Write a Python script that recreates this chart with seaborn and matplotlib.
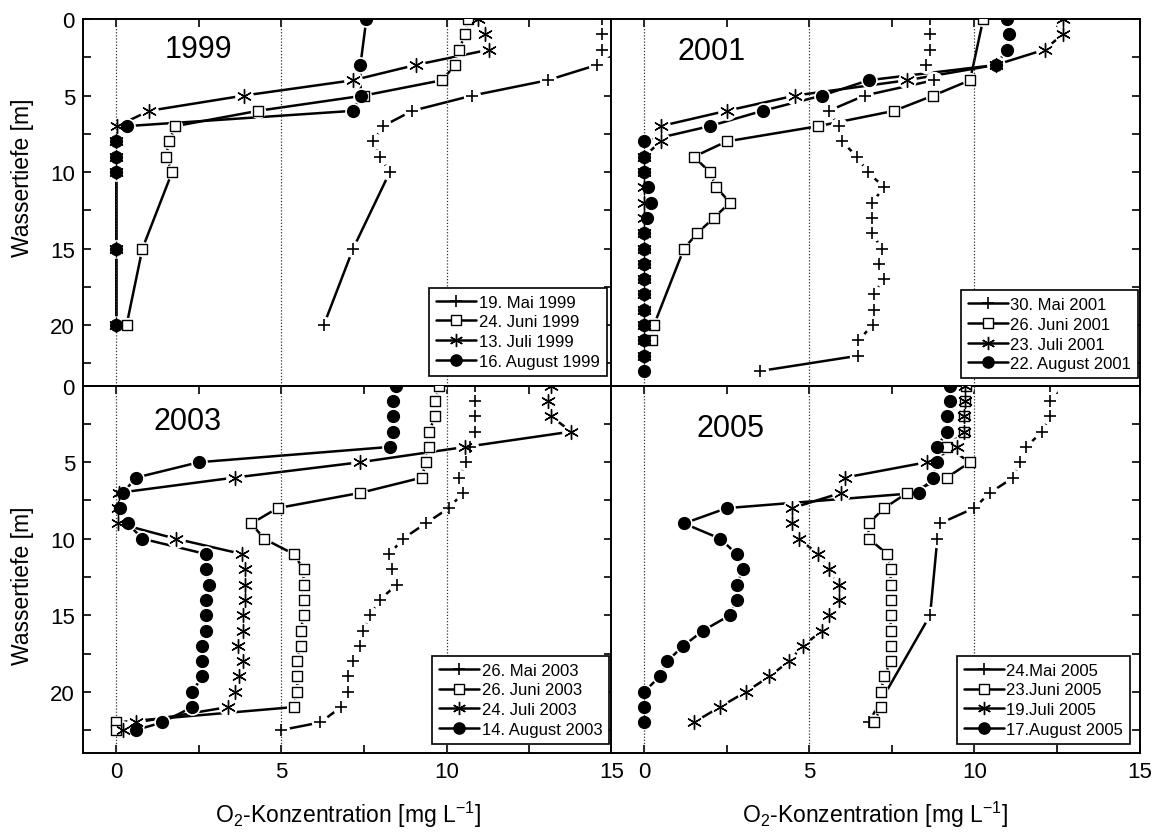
import matplotlib
matplotlib.use("Agg")
import matplotlib.pyplot as plt
from matplotlib.lines import Line2D
from matplotlib.ticker import MultipleLocator
import seaborn as sns

# ---------------------------------------------------------------- data
# depth [m] and dissolved oxygen [mg/L] for each sampling date

# 1999
depth_1999_mai = [0, 1, 2, 3, 4, 5, 6, 7, 8, 9, 10, 15, 20]
o2_1999_mai = [14.7, 14.7, 14.7, 14.55, 13.06, 10.78, 8.96, 8.07, 7.78, 7.98, 8.28, 7.17, 6.28]
depth_1999_juni = [0, 1, 2, 3, 4, 5, 6, 7, 8, 9, 10, 15, 20]
o2_1999_juni = [10.66, 10.57, 10.37, 10.26, 9.86, 7.50, 4.29, 1.79, 1.60, 1.50, 1.69, 0.79, 0.31]
depth_1999_juli = [0, 1, 2, 3, 4, 5, 6, 7, 8, 9, 10, 15, 20]
o2_1999_juli = [10.94, 11.17, 11.29, 9.07, 7.17, 3.87, 0.99, 0.03, 0.0, 0.0, 0.0, 0.0, 0.0]
depth_1999_aug = [0, 3, 5, 6, 7, 8, 9, 10, 15, 20]
o2_1999_aug = [7.57, 7.39, 7.40, 7.17, 0.31, 0.0, 0.0, 0.0, 0.0, 0.0]

# 2001
depth_2001_mai = list(range(0, 24))
o2_2001_mai = [8.67, 8.67, 8.67, 8.55, 8.77, 6.68, 5.59, 5.90, 5.99, 6.45, 6.77, 7.27,
               6.90, 6.90, 6.90, 7.20, 7.10, 7.25, 6.95, 6.95, 6.92, 6.49, 6.49, 3.52]
depth_2001_juni = [0, 4, 5, 6, 7, 8, 9, 10, 11, 12, 13, 14, 15, 20, 21]
o2_2001_juni = [10.27, 9.87, 8.76, 7.57, 5.28, 2.50, 1.51, 1.99, 2.19, 2.60, 2.11, 1.61,
                1.21, 0.30, 0.25]
depth_2001_juli = list(range(0, 23))
o2_2001_juli = [12.67, 12.67, 12.13, 10.65, 7.97, 4.58, 2.50, 0.50, 0.50, 0.0, 0.0, 0.0,
                0.0, 0.0, 0.0, 0.0, 0.0, 0.0, 0.0, 0.0, 0.0, 0.0, 0.0]
depth_2001_aug = list(range(0, 24))
o2_2001_aug = [10.98, 11.05, 10.98, 10.67, 6.80, 5.39, 3.59, 1.99, 0.0, 0.0, 0.0, 0.12,
               0.20, 0.10, 0.0, 0.0, 0.0, 0.0, 0.0, 0.0, 0.0, 0.0, 0.0, 0.0]

# 2003
depth_2003 = list(range(0, 23)) + [22.5]
o2_2003_mai = [10.87, 10.87, 10.87, 10.87, 10.70, 10.59, 10.37, 10.49, 10.07, 9.36, 8.68,
               8.27, 8.35, 8.49, 7.97, 7.69, 7.47, 7.39, 7.18, 7.00, 7.00, 6.80, 6.18, 5.00]
o2_2003_juni = [9.77, 9.66, 9.66, 9.46, 9.46, 9.36, 9.26, 7.39, 4.88, 4.09, 4.47, 5.37,
                5.67, 5.67, 5.67, 5.67, 5.58, 5.58, 5.48, 5.48, 5.48, 5.37, 0.0, 0.0]
o2_2003_juli = [13.16, 13.06, 13.16, 13.77, 10.57, 7.39, 3.59, 0.07, 0.05, 0.06, 1.80, 3.81,
                3.89, 3.89, 3.89, 3.84, 3.84, 3.67, 3.84, 3.71, 3.59, 3.38, 0.61, 0.19]
o2_2003_aug = [8.48, 8.37, 8.37, 8.37, 8.28, 2.50, 0.61, 0.19, 0.11, 0.34, 0.79, 2.71,
               2.71, 2.80, 2.71, 2.71, 2.71, 2.58, 2.58, 2.60, 2.30, 2.30, 1.39, 0.59]

# 2005
depth_2005_mai = [0, 1, 2, 3, 4, 5, 6, 7, 8, 9, 10, 15, 22]
o2_2005_mai = [12.28, 12.28, 12.28, 12.06, 11.56, 11.38, 11.18, 10.47, 9.99, 8.96, 8.88,
               8.66, 6.80]
depth_2005 = list(range(0, 23))
o2_2005_juni = [9.75, 9.72, 9.70, 9.70, 9.16, 9.87, 9.17, 7.97, 7.27, 6.80, 6.80, 7.37,
                7.47, 7.47, 7.47, 7.47, 7.47, 7.47, 7.47, 7.27, 7.17, 7.17, 6.97]
o2_2005_juli = [9.72, 9.72, 9.70, 9.70, 9.48, 8.56, 6.09, 5.97, 4.48, 4.48, 4.68, 5.28,
                5.59, 5.89, 5.89, 5.59, 5.40, 4.80, 4.40, 3.79, 3.09, 2.29, 1.51]
o2_2005_aug = [9.26, 9.26, 9.18, 9.18, 8.86, 8.86, 8.76, 8.31, 2.50, 1.21, 2.31, 2.80,
               3.00, 2.80, 2.80, 2.60, 1.79, 1.19, 0.70, 0.48, 0.0, 0.0, 0.0]

years = ["1999", "2001", "2003", "2005"]
labels_1999 = ["19. Mai 1999", "24. Juni 1999", "13. Juli 1999", "16. August 1999"]
labels_2001 = ["30. Mai 2001", "26. Juni 2001", "23. Juli 2001", "22. August 2001"]
labels_2003 = ["26. Mai 2003", "26. Juni 2003", "24. Juli 2003", "14. August 2003"]
labels_2005 = ["24.Mai 2005", "23.Juni 2005", "19.Juli 2005", "17.August 2005"]

x_ticks = [0, 5, 10, 15]
y_ticks = [0, 5, 10, 15, 20]

# ---------------------------------------------------------------- style
sns.set_style("ticks")
plt.rcParams["font.family"] = ["Liberation Sans", "DejaVu Sans"]
plt.rcParams["mathtext.fontset"] = "custom"
plt.rcParams["mathtext.rm"] = "Liberation Sans"
plt.rcParams["mathtext.it"] = "Liberation Sans:italic"
plt.rcParams["mathtext.bf"] = "Liberation Sans:bold"
for key in ["text.color", "axes.labelcolor", "xtick.color", "ytick.color",
            "axes.edgecolor"]:
    plt.rcParams[key] = "black"

ASTERISK = (6, 2, 0)
LINE_W = 1.8
# marker, size (pt), face colour, edge width
SYMBOLS = [
    ("+", 9.0, "none", 1.2),
    ("s", 7.5, "white", 1.0),
    (ASTERISK, 10.0, "none", 1.0),
    ("o", 8.5, "black", 1.0),
]

panels = [
    dict(year="1999", series=[(depth_1999_mai, o2_1999_mai), (depth_1999_juni, o2_1999_juni),
                              (depth_1999_juli, o2_1999_juli), (depth_1999_aug, o2_1999_aug)],
         labels=labels_1999, rect=[83.3, 20.0], text=(0.217, 0.918), leg=(0.990, 0.029)),
    dict(year="2001", series=[(depth_2001_mai, o2_2001_mai), (depth_2001_juni, o2_2001_juni),
                              (depth_2001_juli, o2_2001_juli), (depth_2001_aug, o2_2001_aug)],
         labels=labels_2001, rect=[611.0, 20.0], text=(0.191, 0.914), leg=(0.997, 0.022)),
    dict(year="2003", series=[(depth_2003, o2_2003_mai), (depth_2003, o2_2003_juni),
                              (depth_2003, o2_2003_juli), (depth_2003, o2_2003_aug)],
         labels=labels_2003, rect=[83.3, 386.7], text=(0.198, 0.905), leg=(0.995, 0.025)),
    dict(year="2005", series=[(depth_2005_mai, o2_2005_mai), (depth_2005, o2_2005_juni),
                              (depth_2005, o2_2005_juli), (depth_2005, o2_2005_aug)],
         labels=labels_2005, rect=[611.0, 386.7], text=(0.226, 0.886), leg=(0.982, 0.025)),
]

W, H = 1160, 837
fig = plt.figure(figsize=(W / 100, H / 100), dpi=100)
ax_w, ax_h = 528.5, 367.3

for i, p in enumerate(panels):
    left_px, top_px = p["rect"]
    ax = fig.add_axes([left_px / W, 1 - (top_px + ax_h) / H, ax_w / W, ax_h / H])
    is_left = i % 2 == 0
    is_bottom = i >= 2

    # profile lines
    for depth, o2 in p["series"]:
        sns.lineplot(x=o2, y=depth, sort=False, estimator=None, color="black",
                     linewidth=LINE_W, ax=ax, zorder=2, legend=False)
    # white gaps around the symbols
    for (depth, o2), (mk, ms, fc, mew) in zip(p["series"], SYMBOLS):
        sns.scatterplot(x=o2, y=depth, marker="o", s=(ms + 3.5) ** 2, color="white",
                        linewidth=0, ax=ax, zorder=2.5, legend=False)
    for x in [0, 5, 10]:
        ax.axvline(x, color="0.2", linestyle=(0, (1, 1.5)), linewidth=0.9, zorder=2.6)
    # symbols
    for k, ((depth, o2), (mk, ms, fc, mew)) in enumerate(zip(p["series"], SYMBOLS)):
        if fc == "none":
            sns.scatterplot(x=o2, y=depth, marker=mk, s=ms ** 2, color="black",
                            linewidth=mew, ax=ax, zorder=3 + k, legend=False)
        else:
            sns.scatterplot(x=o2, y=depth, marker=mk, s=ms ** 2, facecolor=fc,
                            edgecolor="black", linewidth=mew, ax=ax, zorder=3 + k,
                            legend=False)

    ax.set_xlim(-1, 15)
    ax.set_ylim(24, 0)
    ax.xaxis.set_major_locator(MultipleLocator(5))
    ax.xaxis.set_minor_locator(MultipleLocator(2.5))
    ax.yaxis.set_major_locator(MultipleLocator(5))
    ax.yaxis.set_minor_locator(MultipleLocator(2.5))
    ax.tick_params(axis="both", which="both", direction="in", length=6, width=1.2,
                   labelsize=16, top=True, right=True, bottom=is_bottom,
                   left=is_left, labelbottom=is_bottom, labelleft=is_left, pad=6,
                   colors="black")
    for s in ax.spines.values():
        s.set_linewidth(1.4)
        s.set_color("black")

    if is_bottom:
        ax.set_xlabel("O$_2$-Konzentration [mg L$^{-1}$]", fontsize=16.5, labelpad=12)
    else:
        ax.set_xlabel("")
    if is_left:
        ax.set_ylabel("Wassertiefe [m]", fontsize=16.5)
        ax.yaxis.set_label_coords(-0.094, 0.57 if not is_bottom else 0.457)
    else:
        ax.set_ylabel("")

    ax.text(p["text"][0], p["text"][1], p["year"], transform=ax.transAxes,
            fontsize=22, ha="center", va="center", color="black")

    handles = [Line2D([], [], color="black", linewidth=LINE_W, marker=mk,
                      markersize=ms * 0.95, markerfacecolor=fc if fc != "none" else "none",
                      markeredgecolor="black", markeredgewidth=mew)
               for mk, ms, fc, mew in SYMBOLS]
    leg = ax.legend(handles, p["labels"], loc="lower right", bbox_to_anchor=p["leg"],
                    borderaxespad=0, frameon=True, fancybox=False, framealpha=1,
                    edgecolor="black", fontsize=12, handlelength=2.4,
                    handletextpad=0.15, labelspacing=0.28, borderpad=0.42)
    leg.get_frame().set_linewidth(1.2)
    leg.set_zorder(10)

fig.savefig("out.png", dpi=100)
